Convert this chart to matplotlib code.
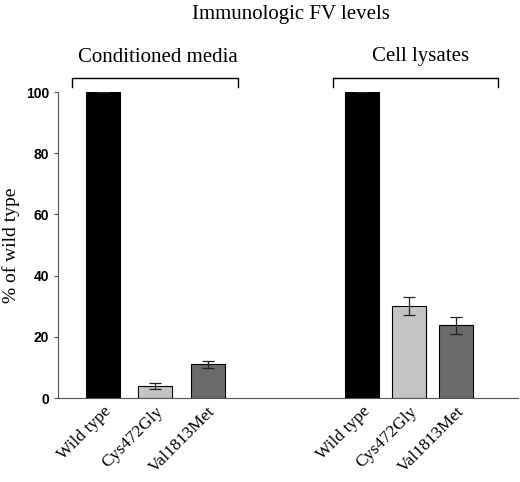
import matplotlib.pyplot as plt
import numpy as np

groups = ["Conditioned media", "Cell lysates"]
variants = ["Wild type", "Cys472Gly", "Val1813Met"]
media_vals = [100, 3.9, 11.0]
media_err = [0, 0.9, 1.1]
lysate_vals = [100, 30.1, 23.7]
lysate_err = [0, 3.0, 2.7]
bar_colors = ["#000000", "#c4c4c4", "#6a6a6a"]

serif = "Liberation Serif"
sans = "Liberation Sans"

fig = plt.figure(figsize=(5.2, 4.82), dpi=100)
ax = fig.add_axes([58 / 520, 84 / 482, 460 / 520, 306 / 482])

pos1 = np.array([0, 1, 2])
pos2 = np.array([4.95, 5.85, 6.75])
w = 0.65

ax.bar(pos1, media_vals, w, color=bar_colors, edgecolor="black", linewidth=0.8,
       yerr=media_err, capsize=4,
       error_kw=dict(elinewidth=0.9, capthick=0.9, ecolor="#222222"))
ax.bar(pos2, lysate_vals, w, color=bar_colors, edgecolor="black", linewidth=0.8,
       yerr=lysate_err, capsize=4,
       error_kw=dict(elinewidth=0.9, capthick=0.9, ecolor="#222222"))

ax.set_xlim(-0.86, 7.93)
ax.set_ylim(0, 100)
ax.set_yticks([0, 20, 40, 60, 80, 100])
ax.tick_params(axis="y", labelsize=10, length=3, width=0.8, color="#555555")
for lab in ax.get_yticklabels():
    lab.set_family(sans)
    lab.set_fontweight("bold")
ax.set_xticks(list(pos1) + list(pos2))
ax.set_xticklabels(variants + variants, rotation=45, ha="right",
                   rotation_mode="anchor", family=serif, fontsize=12.5)
ax.tick_params(axis="x", length=0, pad=4)
ax.spines["top"].set_visible(False)
ax.spines["right"].set_visible(False)
ax.spines["left"].set_color("#555555")
ax.spines["bottom"].set_color("#555555")
ax.set_ylabel("% of wild type", family=serif, fontsize=14, labelpad=4)

# brackets over the groups
for (x0, x1) in [(-0.59, 2.58), (4.40, 7.55)]:
    ax.plot([x0, x0, x1, x1], [101.6, 104.6, 104.6, 101.6], color="black",
            lw=1.0, clip_on=False)

fig.text(291 / 520, 1 - 14 / 482, "Immunologic FV levels", family=serif,
         fontsize=15, ha="center", va="center")
fig.text(158 / 520, 1 - 57 / 482, groups[0], family=serif, fontsize=15,
         ha="center", va="center")
fig.text(421 / 520, 1 - 57 / 482, groups[1], family=serif, fontsize=15,
         ha="center", va="center")

fig.savefig("out.png", dpi=100)
